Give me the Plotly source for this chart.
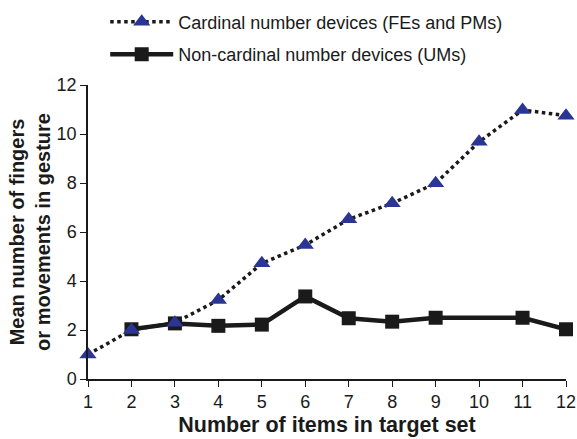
import plotly.graph_objects as go

x_card = [1, 2, 3, 4, 5, 6, 7, 8, 9, 10, 11, 12]
y_card = [1.0, 2.0, 2.3, 3.22, 4.72, 5.47, 6.52, 7.17, 7.99, 9.68, 10.98, 10.75]
x_non = [2, 3, 4, 5, 6, 7, 8, 9, 11, 12]
y_non = [2.03, 2.27, 2.17, 2.22, 3.37, 2.48, 2.34, 2.5, 2.5, 2.03]
x_ticks = list(range(1, 13))
y_ticks = [0, 2, 4, 6, 8, 10, 12]

FONT = "Liberation Sans, Arial, sans-serif"

fig = go.Figure()
fig.add_trace(go.Scatter(
    x=x_non, y=y_non, mode="lines+markers",
    name="Non-cardinal number devices (UMs)",
    line=dict(color="#1a1a1a", width=4.5),
    marker=dict(symbol="square", size=14, color="#1a1a1a"),
    legendgroup="b", legendrank=2,
))
fig.add_trace(go.Scatter(
    x=x_card, y=y_card, mode="lines+markers",
    name="Cardinal number devices (FEs and PMs)",
    line=dict(color="#1a1a1a", width=3.5, dash="dot"),
    marker=dict(symbol="triangle-up", size=15, color="#2b3594"),
    legendgroup="a", legendrank=1,
))

fig.update_layout(
    width=577, height=439,
    margin=dict(l=88, r=11, t=85, b=60, autoexpand=False),
    paper_bgcolor="white", plot_bgcolor="white",
    font=dict(family=FONT, size=18, color="#1a1a1a"),
    showlegend=True,
    legend=dict(
        x=0.036, y=1.277, xanchor="left", yanchor="top",
        font=dict(size=18, color="#1a1a1a"),
        itemwidth=63, traceorder="grouped", tracegroupgap=6,
        bgcolor="rgba(0,0,0,0)",
    ),
    xaxis=dict(
        range=[1, 12], tickvals=x_ticks, ticks="outside", ticklen=6,
        tickcolor="#1a1a1a", showline=True, linecolor="#1a1a1a", linewidth=1.5,
        showgrid=False, zeroline=False,
        tickfont=dict(size=18),
        title=dict(text="<b>Number of items in target set</b>", font=dict(size=21.5), standoff=6),
    ),
    yaxis=dict(
        range=[0, 12], tickvals=y_ticks, ticks="outside", ticklen=6,
        tickcolor="#1a1a1a", showline=True, linecolor="#1a1a1a", linewidth=1.5,
        showgrid=False, zeroline=False,
        tickfont=dict(size=18),
        title=dict(text="<b>Mean number of fingers<br>or movements in gesture</b>", font=dict(size=20), standoff=1),
    ),
)
fig.update_traces(cliponaxis=False)

fig.write_html("out.html", config={"displayModeBar": False})

# remove the default page margin so the figure sits at the window's top-left corner
with open("out.html", "r", encoding="utf-8") as f:
    html = f.read()
html = html.replace("<head>", "<head><style>html,body{margin:0;padding:0;overflow:hidden;}</style>", 1)
with open("out.html", "w", encoding="utf-8") as f:
    f.write(html)
